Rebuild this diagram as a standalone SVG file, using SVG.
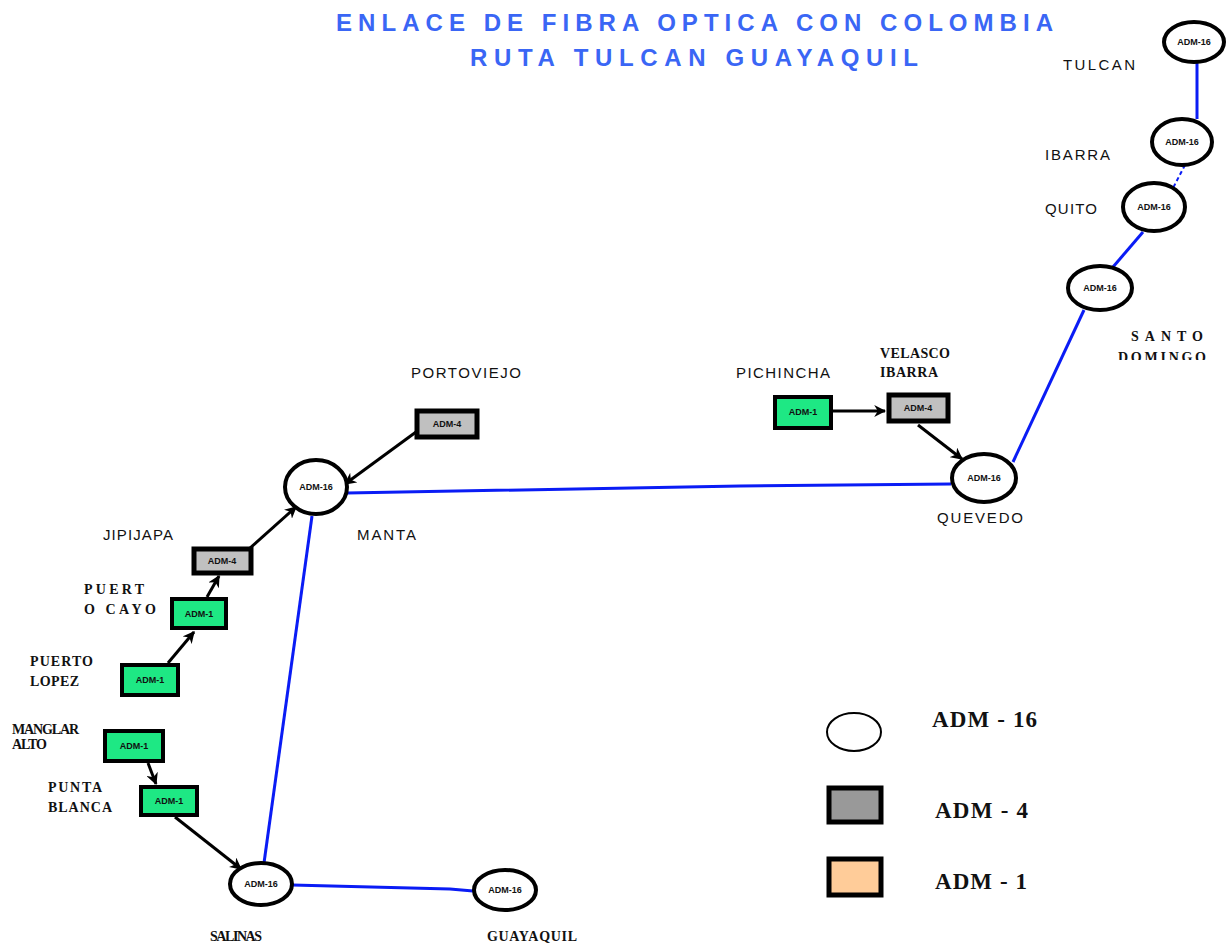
<svg xmlns="http://www.w3.org/2000/svg" width="1227" height="945" viewBox="0 0 1227 945">
<style>
.title{font-family:"Liberation Sans",Arial,sans-serif;font-size:24px;font-weight:bold;fill:#3a66f5;}
.lbl{font-family:"Liberation Sans",Arial,sans-serif;font-size:15px;fill:#111;}
.slbl{font-family:"Liberation Serif","Times New Roman",serif;font-size:14px;font-weight:bold;fill:#111;}
.ntx{font-family:"Liberation Sans",Arial,sans-serif;font-size:9px;font-weight:bold;fill:#111;text-anchor:middle;}
.e16{fill:#fff;stroke:#000;stroke-width:4;}
.r4{fill:#c0c0c0;stroke:#000;stroke-width:5;}
.r1{fill:#1ee884;stroke:#000;stroke-width:4;}
.blue{stroke:#0a1cf5;stroke-width:3;fill:none;}
.arr{stroke:#000;stroke-width:3;fill:none;marker-end:url(#ah);}
.leg{font-family:"Liberation Serif","Times New Roman",serif;font-size:23px;font-weight:bold;fill:#111;}
</style>
<defs>
<marker id="ah" viewBox="0 0 10 10" refX="9" refY="5" markerWidth="4" markerHeight="4" orient="auto" markerUnits="strokeWidth">
<path d="M0,0 L10,5 L0,10 L3,5 z" fill="#000"/>
</marker>
<clipPath id="clipSD"><rect x="1100" y="320" width="127" height="40"/></clipPath>
</defs>
<rect width="1227" height="945" fill="#fff"/>

<g id="title">
<text class="title" x="336" y="31" textLength="717" lengthAdjust="spacing">ENLACE DE FIBRA OPTICA CON COLOMBIA</text>
<text class="title" x="470" y="66" textLength="448" lengthAdjust="spacing">RUTA TULCAN GUAYAQUIL</text>
</g>

<g id="connectors">
<line class="blue" x1="1197" y1="62" x2="1197" y2="119"/>
<line x1="1185" y1="165" x2="1173" y2="188" stroke="#0a1cf5" stroke-width="2" stroke-dasharray="4 3"/>
<line class="blue" x1="1143" y1="232" x2="1113" y2="267"/>
<line class="blue" x1="1084" y1="310" x2="1013" y2="462"/>
<polyline class="blue" points="951,484 740,486 347,493"/>
<line class="blue" x1="312" y1="516" x2="264" y2="863" stroke-width="2.5"/>
<polyline class="blue" points="292,885 450,889 473,891" stroke-width="2.5"/>
<line class="arr" x1="833" y1="411" x2="885" y2="411"/>
<line class="arr" x1="918" y1="425" x2="962" y2="459"/>
<line class="arr" x1="416" y1="432" x2="345" y2="484"/>
<line class="arr" x1="250" y1="548" x2="296" y2="507"/>
<line class="arr" x1="207" y1="597" x2="219" y2="576"/>
<line class="arr" x1="168" y1="663" x2="194" y2="632"/>
<line class="arr" x1="148" y1="763" x2="156" y2="784"/>
<line class="arr" x1="175" y1="817" x2="241" y2="869"/>
</g>

<g id="tulcan"><ellipse class="e16" cx="1194" cy="42" rx="30" ry="20"/><text class="ntx" x="1194" y="45">ADM-16</text><text class="lbl" x="1063" y="70" textLength="72" lengthAdjust="spacing">TULCAN</text></g>
<g id="ibarra"><ellipse class="e16" cx="1182" cy="142" rx="30" ry="23"/><text class="ntx" x="1182" y="145">ADM-16</text><text class="lbl" x="1045" y="160" textLength="65" lengthAdjust="spacing">IBARRA</text></g>
<g id="quito"><ellipse class="e16" cx="1154" cy="207" rx="31" ry="24"/><text class="ntx" x="1154" y="210">ADM-16</text><text class="lbl" x="1045" y="214" textLength="52" lengthAdjust="spacing">QUITO</text></g>
<g id="santo-domingo"><ellipse class="e16" cx="1100" cy="288" rx="32" ry="22"/><text class="ntx" x="1100" y="291">ADM-16</text>
<text class="slbl" x="1131" y="341" textLength="72" lengthAdjust="spacing" font-size="16">SANTO</text>
<text class="slbl" x="1118" y="362" textLength="88" lengthAdjust="spacing" font-size="16" clip-path="url(#clipSD)">DOMINGO</text></g>
<g id="quevedo"><ellipse class="e16" cx="984" cy="478" rx="32" ry="24"/><text class="ntx" x="984" y="481">ADM-16</text><text class="lbl" x="937" y="523" textLength="86" lengthAdjust="spacing">QUEVEDO</text></g>
<g id="pichincha"><rect class="r1" x="775" y="397" width="56" height="31"/><text class="ntx" x="803" y="415">ADM-1</text><text class="lbl" x="736" y="378" textLength="94" lengthAdjust="spacing">PICHINCHA</text></g>
<g id="velasco-ibarra"><rect class="r4" x="889" y="395" width="59" height="26"/><text class="ntx" x="918" y="411">ADM-4</text>
<text class="slbl" x="880" y="358" textLength="70" lengthAdjust="spacing">VELASCO</text><text class="slbl" x="880" y="377" textLength="58" lengthAdjust="spacing">IBARRA</text></g>
<g id="manta"><ellipse class="e16" cx="316" cy="487" rx="31" ry="27"/><text class="ntx" x="316" y="490">ADM-16</text><text class="lbl" x="357" y="540" textLength="59" lengthAdjust="spacing">MANTA</text></g>
<g id="portoviejo"><rect class="r4" x="417" y="411" width="60" height="26"/><text class="ntx" x="447" y="427">ADM-4</text><text class="lbl" x="411" y="378" textLength="110" lengthAdjust="spacing">PORTOVIEJO</text></g>
<g id="jipijapa"><rect class="r4" x="194" y="549" width="57" height="24"/><text class="ntx" x="222" y="564">ADM-4</text><text class="lbl" x="103" y="540" textLength="70" lengthAdjust="spacing">JIPIJAPA</text></g>
<g id="puerto-cayo"><rect class="r1" x="172" y="599" width="54" height="29"/><text class="ntx" x="199" y="617">ADM-1</text>
<text class="slbl" x="84" y="594" textLength="60" lengthAdjust="spacing" font-size="15">PUERT</text><text class="slbl" x="84" y="614" textLength="72" lengthAdjust="spacing" font-size="15">O CAYO</text></g>
<g id="puerto-lopez"><rect class="r1" x="122" y="665" width="56" height="30"/><text class="ntx" x="150" y="683">ADM-1</text>
<text class="slbl" x="30" y="666" textLength="63" lengthAdjust="spacing" font-weight="normal">PUERTO</text><text class="slbl" x="30" y="686" textLength="49" lengthAdjust="spacing" font-weight="normal">LOPEZ</text></g>
<g id="manglar-alto"><rect class="r1" x="105" y="731" width="58" height="30"/><text class="ntx" x="134" y="749">ADM-1</text>
<text class="slbl" x="12" y="734" textLength="67" lengthAdjust="spacing" font-size="11">MANGLAR</text><text class="slbl" x="12" y="749" textLength="35" lengthAdjust="spacing" font-size="11">ALTO</text></g>
<g id="punta-blanca"><rect class="r1" x="141" y="787" width="56" height="28"/><text class="ntx" x="169" y="804">ADM-1</text>
<text class="slbl" x="48" y="792" textLength="54" lengthAdjust="spacing" font-weight="normal">PUNTA</text><text class="slbl" x="48" y="812" textLength="64" lengthAdjust="spacing" font-weight="normal">BLANCA</text></g>
<g id="salinas"><ellipse class="e16" cx="261" cy="884" rx="31" ry="21"/><text class="ntx" x="261" y="887">ADM-16</text><text class="slbl" x="210" y="941" textLength="52" lengthAdjust="spacing">SALINAS</text></g>
<g id="guayaquil"><ellipse class="e16" cx="505" cy="890" rx="31" ry="20"/><text class="ntx" x="505" y="893">ADM-16</text><text class="slbl" x="487" y="941" textLength="90" lengthAdjust="spacing">GUAYAQUIL</text></g>

<g id="legend">
<ellipse cx="854" cy="732" rx="27" ry="19" fill="#fff" stroke="#000" stroke-width="2"/>
<rect x="829" y="788" width="52" height="34" fill="#999" stroke="#000" stroke-width="5"/>
<rect x="829" y="859" width="52" height="36" fill="#ffcc99" stroke="#000" stroke-width="5"/>
<text class="leg" x="932" y="727" textLength="105" lengthAdjust="spacing">ADM - 16</text>
<text class="leg" x="935" y="818" textLength="93" lengthAdjust="spacing">ADM - 4</text>
<text class="leg" x="935" y="889" textLength="92" lengthAdjust="spacing">ADM - 1</text>
</g>
</svg>
